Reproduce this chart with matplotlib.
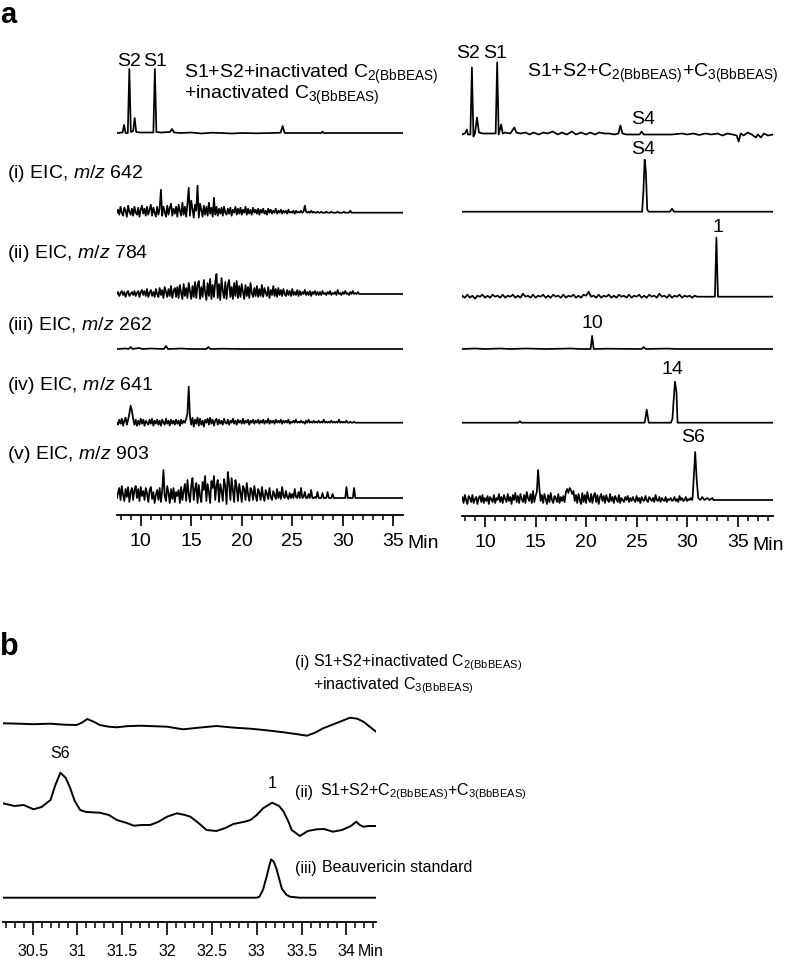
import numpy as np
import matplotlib
matplotlib.use('Agg')
import matplotlib.pyplot as plt
from matplotlib.ticker import MultipleLocator, FuncFormatter

plt.rcParams['font.family'] = ['Liberation Sans', 'DejaVu Sans']
plt.rcParams['mathtext.fontset'] = 'custom'
plt.rcParams['mathtext.rm'] = 'Liberation Sans'
plt.rcParams['mathtext.it'] = 'Liberation Sans:italic'
plt.rcParams['mathtext.bf'] = 'Liberation Sans:bold'

W, H = 788, 960
NOISE_T0 = 7.75  # first time (min) of every noisy stretch
FINE = 0.125     # sampling of the dense noisy stretches
COARSE = 0.25    # sampling of the quieter ones

# ---------------- panel a : control (inactivated enzymes) ----------------
ctrl_top = [(7.65, 0), (8.2, 0.5), (8.35, 8), (8.5, 0), (8.72, 0), (8.87, 64), (9.02, 1),
            (9.25, 2), (9.4, 15), (9.55, 1), (10.0, 0.5), (11.25, 0.5), (11.4, 64), (11.55, 1),
            (12.0, 0.5), (12.9, 1), (13.1, 4), (13.3, 0.5), (14.0, 0), (15.0, 0.5), (16.0, -0.5),
            (17.0, 0.3), (18.0, 0), (19.0, -0.5), (20.0, 0), (21.5, -0.3), (23.0, 0), (23.85, 0.3),
            (24.05, 7), (24.25, 0), (26.0, 0), (27.9, 0), (28.0, 1.5), (28.1, 0), (30.0, 0), (36.0, 0)]

ctrl_642 = [3, -2, 6, 0, -3, 5, 2, -4, 7, 1, -2, 4, -3, 6, 0, -2,
            5, -4, 3, 7, -1, 4, -3, 6, -2, 3, 8, -3, 5, 0, -4, 6,
            -2, 4, 23, -3, 6, 1, -4, 7, -2, 5, 9, -3, 4, -1, 6, -4,
            8, 2, -3, 10, -2, 6, -4, 9, 25, -3, 12, 4, -5, 8, 2, 27,
            -5, 9, 3, -4, 7, -2, 6, -3, 10, -1, 5, -4, 15, -2, 6, -3,
            4, -1, 5, -3, 6, 0, -2, 4, -1, 5, -3, 3, 0, 6, -2, 4,
            -1, 5, -2, 3, 0, 6, -2, 4, -1, 3, -2, 5, 0, 3, -1, 4,
            -2, 3, 0, 4, -1, 2, -2, 4, 0, 3, -1, 2, 0, 4, -1, 2,
            0, 3, -1, 2, 0, 2, -1, 3, 0, 1, 0, 2, -1, 2, 0, 1,
            0, 2, 0, 1, 7, 1, 0, 1, 0, 2, 0, 1, 0, 0, 1, 0,
            0, 1, 0, 0, 0, 1, 0, 0, 0, 1, 0, 0, 0, 0, 1, 0,
            0, 0, 0, 1, 0, 0, 0, 0, 2, 0, 0, 0, 0, 0, 0, 0]

ctrl_784 = [2, -2, 1, 3, -1, 2, -3, 1, 3, -2, 0, 2, -1, 3, -2, 1,
            3, -3, 2, 4, -1, 3, -2, 5, -3, 1, 4, -2, 2, -3, 5, 0,
            -3, 6, -1, 4, -4, 7, 2, -3, 5, -2, 8, -4, 3, 6, -3, 7,
            -4, 9, 1, -5, 10, -2, 6, -4, 11, 3, -5, 8, -3, 12, -4, 9,
            13, -5, 7, -3, 14, 2, -6, 11, -2, 15, -5, 9, -3, 12, 20, -4,
            10, -6, 16, 3, -4, 12, -5, 9, 14, -3, 7, -5, 11, -2, 13, -4,
            8, -3, 10, 2, -5, 9, -2, 7, -4, 11, 1, -3, 6, -2, 8, -3,
            5, -2, 9, -3, 6, 1, -2, 7, -4, 4, -1, 8, -2, 5, -3, 6,
            -1, 4, -2, 5, 0, -2, 4, -1, 3, -2, 5, -1, 2, -1, 4, -2,
            3, -1, 2, 0, 4, -1, 2, -1, 3, -2, 2, 0, 3, -1, 2, -1,
            2, -1, 3, 0, 1, -1, 2, 0, 3, -1, 1, 0, 2, -1, 4, 0,
            1, -1, 2, 0, 3, 0, 1, -1, 2, 0, 3, 0, 1, 0, 2, 0]

ctrl_262 = [(7.65, 0), (8.5, 0.5), (8.8, 0), (9.0, 2), (9.2, 0), (9.8, 1), (10.2, 0), (11.0, 0.5),
            (12.3, 0), (12.5, 3), (12.7, 0), (14.0, 0.5), (15.0, 0), (16.5, 0), (16.7, 2),
            (16.9, 0), (18.0, 0.3), (20.0, 0), (36.0, 0)]

ctrl_641 = [-2, 3, -1, 4, -3, 2, 5, -2, 3, 9, 17, 12, 4, -2, 3, -3,
            2, -2, 4, -1, 3, -3, 2, 0, -2, 3, -1, 4, -3, 2, -1, 3,
            -2, 2, -3, 3, 0, -2, 4, -1, 2, -3, 3, -1, 2, -2, 3, -1,
            2, -3, 3, -1, 2, 0, 4, 9, 36, 6, -2, 5, -4, 3, -1, 5,
            -3, 4, -2, 2, -4, 3, 0, 4, -2, 5, -1, 3, -3, 2, 4, -2,
            3, -1, 2, -2, 4, 0, -1, 3, -2, 2, 0, 4, -1, 2, -2, 3,
            0, 2, -1, 4, -1, 2, 0, 3, -2, 2, 0, 3, -1, 2, 0, 3,
            -1, 2, 0, 3, -1, 2, 0, 4, -1, 2, 0, 2, -1, 3, 0, 2,
            0, 3, -1, 2, 0, 2, 0, 3, -1, 1, 0, 2, 0, 3, 0, 1,
            0, 2, 0, 1, -1, 2, 0, 3, 0, 1, 0, 2, 0, 1, 0, 2,
            0, 1, 0, 3, 0, 1, 0, 1, 0, 2, 0, 1, 0, 1, 0, 3,
            0, 1, 0, 1, 0, 2, 0, 0, 1, 0, 0, 1, 0, 0, 0, 0]

ctrl_903 = [5, 10, -2, 12, 3, -3, 9, 1, 11, -4, 6, 10, -2, 8, 12, 0,
            9, -3, 11, 2, 7, -2, 10, 4, -4, 8, 11, -1, 6, -5, 3, 8,
            -2, 10, -4, 7, 28, 2, -3, 12, 5, -5, 9, -1, 10, -4, 6, 2,
            8, -5, 11, -2, 7, 14, -3, 18, 4, -4, 12, 20, -2, 9, 15, -5,
            13, 2, -4, 16, 8, 22, -3, 14, 6, -5, 17, 10, 22, -2, 12, 18,
            -4, 14, 7, -3, 19, 12, -6, 26, 15, -2, 20, 8, -4, 18, 11, -3,
            14, 6, -4, 12, 9, -2, 15, 4, -3, 10, 7, -2, 12, 3, -3, 9,
            5, -2, 11, 2, -3, 8, 4, -1, 10, 1, -2, 7, 3, -1, 9, 0,
            6, -1, 11, 2, 0, 7, 1, -1, 5, 0, 4, 0, 9, 1, 0, 6,
            0, 10, 0, 1, 6, 0, 0, 4, 0, 8, 0, 0, 1, 0, 6, 0,
            0, 0, 5, 0, 0, 0, 6, 0, 0, 0, 4, 0, 0, 0, 0, 0,
            0, 0, 0, 0, 0, 11, 0, 0, 0, 0, 0, 10, 0, 0, 0, 0]

# ---------------- panel a : full reaction ----------------
rxn_top = [(7.7, 0), (8.0, 1), (8.2, 5), (8.3, 0), (8.55, 0), (8.7, 67), (8.85, -2), (9.0, 1),
           (9.2, 17), (9.4, 2), (9.8, 1), (10.5, 1), (11.05, 1), (11.2, 72), (11.35, 0),
           (11.6, 10), (11.75, 1), (12.0, 2), (12.5, 1), (12.9, 7), (13.1, 2), (13.5, 1),
           (14.0, 2), (14.4, 0), (14.8, 2), (15.3, 0), (15.8, 2), (16.2, 1), (16.7, 3), (17.2, 0),
           (17.6, 2), (18.1, 0), (18.6, 3), (19.0, 0), (19.5, 2), (20.0, 0), (20.4, 2), (20.9, 0),
           (21.3, 2), (21.8, 1), (22.3, 1), (22.8, 0), (23.2, 1), (23.4, 9), (23.6, 1), (24.0, 0),
           (25.3, 0), (25.5, 3), (25.7, 0), (28.5, 0), (29.0, 0.5), (29.5, 1), (30.0, 0),
           (30.6, 1), (31.2, -0.5), (31.8, 1), (32.4, 0), (33.0, 1), (33.5, -1), (34.0, 1),
           (34.5, 0), (34.9, -1), (35.1, -7), (35.3, 1), (35.6, -1), (36.0, 2), (36.4, 0),
           (36.8, -3), (37.0, 0), (37.3, -3), (37.6, 1), (38.0, -1), (38.5, 0)]

rxn_642 = [(7.7, 0), (25.55, 0), (25.68, 22), (25.8, 52), (25.92, 40), (26.05, 2), (26.2, 0),
           (28.3, 0), (28.5, 3), (28.7, 0), (38.5, 0)]

rxn_784 = [1, -1, 2, -1, 1, -2, 1, 0, 2, -1,
           1, -1, 2, 0, 1, -1, 2, -1, 1, 0,
           2, -1, 1, -1, 3, 0, 1, -1, 2, -1,
           1, 0, 2, -1, 1, -1, 2, 0, 1, -1,
           2, -1, 1, 0, 2, -1, 1, -1, 2, 1,
           5, 0, 1, -1, 2, -1, 1, 0, 2, -1,
           1, -1, 2, 0, 1, -1, 2, -1, 1, 0,
           2, -1, 1, -1, 2, 0, 1, -1, 3, 0,
           1, -1, 2, -1, 1, 0, 2, -1, 1, 0,
           1, -1, 1, 0]
rxn_784_tail = [(31.25, 0), (32.75, 0), (32.9, 59), (33.05, 0), (38.5, 0)]

rxn_262 = [(7.7, 0), (9.0, 0.5), (10.0, 0), (11.5, 0.5), (12.5, 0), (14.0, 0.5), (16.0, 0),
           (18.5, 0.5), (19.5, 0), (20.45, 0), (20.6, 13), (20.75, 0), (22.0, 0.3), (25.5, 0),
           (25.7, 2), (25.9, 0), (28.0, 0.4), (29.0, 0), (38.5, 0)]

rxn_641 = [(7.7, 0), (13.3, 0), (13.45, 1.5), (13.6, 0), (25.8, 0), (26.0, 13), (26.2, 0),
           (28.4, 0), (28.55, 4), (28.65, 20), (28.8, 41), (28.95, 30), (29.05, 0), (38.5, 0)]

rxn_903 = [3, -3, 5, 0, -4, 4, 2, -2, 5, -3, 1, 3, -4, 2, 4, -2,
           5, -3, 2, -1, 4, -4, 3, 1, -2, 5, -3, 2, 0, 6, -2, 3,
           -3, 5, 1, -2, 6, -1, 3, -4, 5, 0, 7, -2, 4, -3, 6, 1,
           -2, 5, -3, 8, 2, -1, 6, -3, 9, -2, 4, 8, 30, 12, -1, 5,
           -3, 6, 1, -4, 5, -2, 7, 0, -3, 4, 2, -2, 6, -3, 3, -1,
           4, -2, 8, 11, 7, 12, 10, 6, 9, -1, 5, -3, 6, 0, -4, 7,
           -2, 5, -3, 8, 1, -2, 6, -3, 4, 7, -2, 5, -4, 3, 6, -1,
           4, -3, 5, 0, -2, 6, -1, 3, -3, 4, 1, -2, 5, -3, 2, 0,
           -2, 3, 0, 4, -2, 2, -1, 3, 0, -2, 4, -1, 2, -3, 3, 0,
           -1, 4, 0, -2, 3, 1, -1, 2, -2, 5, 0, -1, 3, -2, 2, 0,
           -1, 3, -2, 1, 0, 2, -1, 0, 3, -1, 1, -2, 4, 0, 2, -1,
           0, 3, -1, 1, 0, 2, 0]
rxn_903_tail = [(30.55, 3), (30.7, 30), (30.8, 48), (30.95, 20), (31.1, 2), (31.3, 0), (31.5, 3),
                (31.7, 0), (32.0, 2), (32.2, 0), (32.5, 2), (32.6, 0), (38.5, 0)]

# ---------------- panel b : zoom 30-34.3 min ----------------
b_ctrl = [(30.18, 12.4), (30.35, 12), (30.5, 11.5), (30.7, 12), (30.85, 11), (30.99, 10.7),
          (31.05, 13), (31.11, 16.7), (31.18, 14), (31.25, 10.7), (31.35, 9), (31.44, 8.4),
          (31.55, 9.5), (31.7, 10), (31.85, 9.5), (32.0, 9), (32.1, 7.5), (32.18, 6.4),
          (32.35, 8), (32.55, 9.7), (32.75, 8), (32.93, 7), (33.1, 5.5), (33.3, 3.4),
          (33.45, 1.5), (33.56, 0), (33.65, 3), (33.74, 7.4), (33.9, 13), (34.04, 18),
          (34.12, 17), (34.19, 14), (34.26, 9), (34.33, 4)]

b_rxn = [(30.17, 32.7), (30.3, 30), (30.4, 31), (30.51, 26.7), (30.6, 29), (30.7, 36),
         (30.75, 50), (30.81, 63.3), (30.87, 58), (30.92, 47.7), (30.97, 35), (31.03, 26),
         (31.1, 24), (31.25, 23.3), (31.35, 21), (31.44, 16), (31.55, 13), (31.63, 10.3),
         (31.72, 11), (31.81, 11), (31.9, 14), (32.0, 19.3), (32.11, 22.7), (32.2, 21),
         (32.26, 19.3), (32.35, 13), (32.44, 6), (32.55, 5), (32.65, 8), (32.74, 12),
         (32.85, 14), (32.93, 16), (33.0, 21), (33.07, 27.7), (33.17, 33.3), (33.25, 30),
         (33.3, 24.3), (33.35, 15), (33.39, 6), (33.48, 0), (33.57, 5), (33.67, 6.7),
         (33.75, 7), (33.85, 4.3), (33.95, 6), (34.05, 10), (34.11, 14.3), (34.15, 11),
         (34.19, 9.3), (34.25, 10), (34.33, 10)]

b_std = [(30.17, 0), (33.0, 0), (33.03, 1), (33.07, 8), (33.11, 21), (33.14, 32), (33.16, 38.3),
         (33.19, 36), (33.22, 29), (33.25, 19), (33.28, 9), (33.33, 3), (33.37, 1),
         (33.48, 0), (34.33, 0)]


def pairs(p):
    t, y = zip(*p)
    return list(t), list(y)


def noisy(vals, step, head=None, tail=None):
    t = list(NOISE_T0 + step * np.arange(len(vals)))
    y = list(vals)
    if head:
        t = [head[0]] + t
        y = [head[1]] + y
    if tail:
        tt, yy = pairs(tail)
        t += tt
        y += yy
    return t, y


fig = plt.figure(figsize=(W / 100, H / 100), dpi=100)


def trace_axes(x0, x1, base_y, tlim, lo=-15, hi=80):
    ax = fig.add_axes([x0 / W, (H - base_y + lo) / H, (x1 - x0) / W, (hi - lo) / H])
    ax.set_xlim(tlim)
    ax.set_ylim(lo, hi)
    ax.axis('off')
    ax.patch.set_alpha(0)
    return ax


def time_axis(x0, x1, y, tlim, major, minor, fmt, size, major_len, minor_len, pad):
    ax = fig.add_axes([x0 / W, (H - y) / H, (x1 - x0) / W, 0.01])
    ax.set_xlim(tlim)
    ax.set_yticks([])
    for s in ['top', 'left', 'right']:
        ax.spines[s].set_visible(False)
    ax.spines['bottom'].set_linewidth(1.3)
    ax.patch.set_alpha(0)
    ax.xaxis.set_major_locator(MultipleLocator(major))
    ax.xaxis.set_minor_locator(MultipleLocator(minor))
    ax.xaxis.set_major_formatter(FuncFormatter(fmt))
    ax.tick_params(axis='x', which='major', length=major_len, width=1.2, labelsize=size, pad=pad)
    ax.tick_params(axis='x', which='minor', length=minor_len, width=1.1)
    return ax


def ftext(x, y, s, **kw):
    kw.setdefault('va', 'center')
    kw.setdefault('fontsize', 14)
    fig.text(x / W, 1 - y / H, s, **kw)


LW = 1.25
left_x = (117, 403)
left_t = (7.65, 35.97)
right_x = (461.7, 773)
right_t = (7.69, 38.5)

# left column traces
left_traces = [
    (133, pairs(ctrl_top)),
    (212.7, noisy(ctrl_642, FINE, (7.65, 0), [(31.75, 0), (36.0, 0)])),
    (294, noisy(ctrl_784, FINE, (7.65, 0), [(32.0, 0), (36.0, 0)])),
    (349, pairs(ctrl_262)),
    (422.7, noisy(ctrl_641, FINE, (7.65, 0), [(32.0, 0), (36.0, 0)])),
    (498, noisy(ctrl_903, FINE, (7.65, 0), [(31.75, 0), (36.0, 0)])),
]
for base, (t, y) in left_traces:
    ax = trace_axes(*left_x, base, left_t)
    ax.plot(t, y, color='black', lw=LW)

# right column traces
right_traces = [
    (134.5, pairs(rxn_top)),
    (211.7, pairs(rxn_642)),
    (296.7, noisy(rxn_784, COARSE, (7.7, 0), rxn_784_tail)),
    (349, pairs(rxn_262)),
    (422.7, pairs(rxn_641)),
    (500, noisy(rxn_903, FINE, (7.7, 0), rxn_903_tail)),
]
for base, (t, y) in right_traces:
    ax = trace_axes(*right_x, base, right_t)
    ax.plot(t, y, color='black', lw=LW)

fmt_int = lambda v, p: f'{v:g}' if 9 < v < 36 else ''
time_axis(*left_x, 515, left_t, 5, 1, fmt_int, 14, 8, 3.5, 5)
time_axis(*right_x, 516, right_t, 5, 1, fmt_int, 14, 8, 3.5, 5)
ftext(407, 543, 'Min')
ftext(752, 545, 'Min')

# panel a labels
ftext(0, 1, 'a', fontsize=21, fontweight='bold', va='top')
ftext(129, 61, 'S2', ha='center')
ftext(155, 61, 'S1', ha='center')
ftext(184, 74, r'S1+S2+inactivated C$_{\rm 2(BbBEAS)}$')
ftext(184, 95, r'+inactivated C$_{\rm 3(BbBEAS)}$')
ftext(468, 53, 'S2', ha='center')
ftext(495, 53, 'S1', ha='center')
ftext(527, 73, r'S1+S2+C$_{\rm 2(BbBEAS)}$+C$_{\rm 3(BbBEAS)}$')
ftext(643, 120, 'S4', ha='center')
ftext(643, 150, 'S4', ha='center')
ftext(718, 227, '1', ha='center')
ftext(592, 324, '10', ha='center')
ftext(672, 369, '14', ha='center')
ftext(693, 437, 'S6', ha='center')

eic_labels = [(173, '(i) EIC, $m/z$ 642'), (253, '(ii) EIC, $m/z$ 784'),
              (325, '(iii) EIC, $m/z$ 262'), (385, '(iv) EIC, $m/z$ 641'),
              (455, '(v) EIC, $m/z$ 903')]
for y, s in eic_labels:
    ftext(7, y, s)

# ---------------- panel b ----------------
BFS = 11.5
b_x = (3, 376)
b_t = (30.17, 34.33)
for base, (t, y) in [(735.7, pairs(b_ctrl)), (836, pairs(b_rxn)), (897.7, pairs(b_std))]:
    ax = trace_axes(*b_x, base, b_t, lo=-10, hi=75)
    ax.plot(t, y, color='black', lw=1.4)

time_axis(*b_x, 921.7, b_t, 0.5, 0.1, lambda v, p: f'{v:g}', BFS, 9, 4, 7)
ftext(358, 952, 'Min', fontsize=BFS)

ftext(0, 655, 'b', fontsize=22, fontweight='bold', va='baseline')
ftext(60, 753, 'S6', ha='center', fontsize=BFS)
ftext(272, 783, '1', ha='center', fontsize=BFS)
ftext(295, 663, '(i)', fontsize=BFS)
ftext(313, 663, r'S1+S2+inactivated C$_{\rm 2(BbBEAS)}$', fontsize=BFS)
ftext(313, 686, r'+inactivated C$_{\rm 3(BbBEAS)}$', fontsize=BFS)
ftext(295, 792, '(ii)', fontsize=BFS)
ftext(320, 792, r'S1+S2+C$_{\rm 2(BbBEAS)}$+C$_{\rm 3(BbBEAS)}$', fontsize=BFS)
ftext(295, 868, '(iii)', fontsize=BFS)
ftext(322, 868, 'Beauvericin standard', fontsize=BFS)

fig.savefig('out.png', dpi=100)
